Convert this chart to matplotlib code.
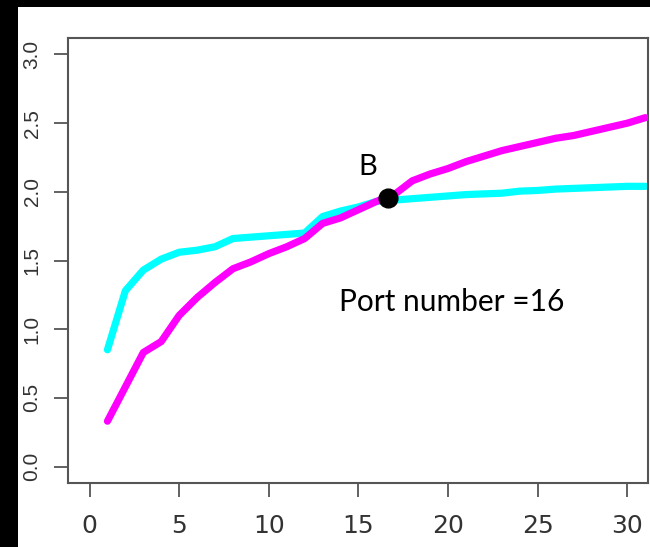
import numpy as np
import matplotlib
matplotlib.use('Agg')
import matplotlib.pyplot as plt
from matplotlib.patches import Rectangle

# datos
puertos = np.arange(1, 32)
cian = [0.85, 1.28, 1.43, 1.51, 1.56, 1.575, 1.60, 1.66, 1.67, 1.68, 1.69, 1.70,
        1.82, 1.86, 1.89, 1.93, 1.94, 1.95, 1.96, 1.97, 1.98, 1.985, 1.99, 2.005,
        2.01, 2.02, 2.025, 2.03, 2.035, 2.04, 2.04]
magenta = [0.33, 0.58, 0.83, 0.91, 1.10, 1.23, 1.34, 1.44, 1.49, 1.55, 1.60, 1.66,
           1.77, 1.81, 1.87, 1.93, 1.98, 2.08, 2.13, 2.17, 2.22, 2.26, 2.30, 2.33,
           2.36, 2.39, 2.41, 2.44, 2.47, 2.50, 2.54]
punto_b = (16.65, 1.955)
x_ticks = [0, 5, 10, 15, 20, 25, 30]
y_ticks = [0.0, 0.5, 1.0, 1.5, 2.0, 2.5, 3.0]

fig = plt.figure(figsize=(6.5, 5.47), dpi=100)
fig.patch.set_facecolor('black')
# zona blanca (bordes negros arriba e izquierda)
fig.add_artist(Rectangle((18/650, 0), 1 - 18/650, 1 - 7/547,
                         transform=fig.transFigure, facecolor='white',
                         edgecolor='none', zorder=0))

ax = fig.add_axes([68/650, 64/547, 580/650, 445/547])
ax.set_facecolor('white')
ax.plot(puertos, cian, color='#00FFFF', lw=5.2, solid_capstyle='round', zorder=2)
ax.plot(puertos, magenta, color='#FF00FF', lw=5.2, solid_capstyle='round', zorder=3)
ax.plot(*punto_b, 'o', color='black', markersize=13.5, zorder=4)
ax.text(15.5, 2.18, 'B', fontsize=21, family='Lato', ha='center', va='center')
ax.text(20.2, 1.2, 'Port number =16', fontsize=21.5, family='Lato',
        ha='center', va='center')

ax.set_xlim(-1.2, 31.15)
ax.set_ylim(-0.12, 3.12)
ax.set_xticks(x_ticks)
ax.set_yticks(y_ticks)
ax.set_xticklabels([str(v) for v in x_ticks], family='Liberation Sans Narrow',
                   fontsize=18, color='#333333')
ax.set_yticklabels(['%.1f' % v for v in y_ticks], family='Liberation Sans',
                   fontsize=15, color='#333333', rotation=90, va='center')
ax.tick_params(axis='both', length=10, width=1.3, color='#555555')
ax.tick_params(axis='x', pad=12)
ax.tick_params(axis='y', pad=9)
for s in ax.spines.values():
    s.set_color('#555555')
    s.set_linewidth(1.5)

plt.savefig('out.png', dpi=100, facecolor=fig.get_facecolor())
